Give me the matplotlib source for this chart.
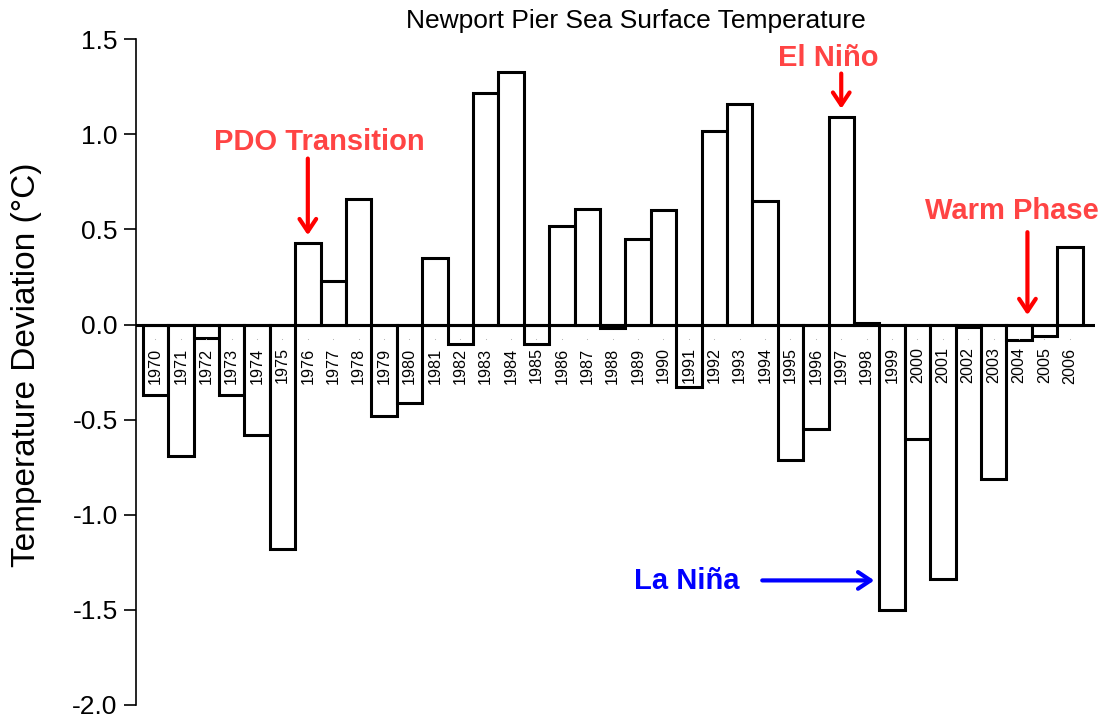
import matplotlib
matplotlib.use("Agg")
import matplotlib.pyplot as plt
import numpy as np

plt.rcParams['font.family'] = ['Liberation Sans', 'DejaVu Sans']
plt.rcParams['axes.unicode_minus'] = False

years = [str(y) for y in range(1970, 2007)]
deviation = [-0.37, -0.69, -0.07, -0.37, -0.58, -1.18, 0.43, 0.23, 0.66, -0.48,
             -0.41, 0.35, -0.10, 1.22, 1.33, -0.10, 0.52, 0.61, -0.02, 0.45,
             0.60, -0.33, 1.02, 1.16, 0.65, -0.71, -0.55, 1.09, 0.01, -1.50,
             -0.60, -1.34, -0.01, -0.81, -0.08, -0.06, 0.41]
yticks = [-2.0, -1.5, -1.0, -0.5, 0.0, 0.5, 1.0, 1.5]

W, H = 1102, 717
fig = plt.figure(figsize=(W / 100, H / 100), dpi=100)
ax = fig.add_axes([135.7 / W, 1 - 705.0 / H, (1095 - 135.7) / W, (705.0 - 39.3) / H])

x = np.arange(len(years))
ax.bar(x, deviation, width=1.0, facecolor='white', edgecolor='black', linewidth=2.2, zorder=2)
ax.axhline(0, color='black', linewidth=2.2, zorder=3)

ax.set_xlim(-0.776, 36.99)
ax.set_ylim(-2.0, 1.5)
ax.set_yticks(yticks)
ax.set_yticklabels([f"{v:.1f}" for v in yticks], fontsize=19)
ax.tick_params(axis='y', direction='out', length=9, width=1.2, pad=4)
ax.set_xticks([])
for s in ['top', 'right', 'bottom']:
    ax.spines[s].set_visible(False)
ax.spines['left'].set_linewidth(1.2)

# year labels written vertically just under the zero line
for xi, yr in zip(x, years):
    ax.text(xi, -0.12, yr, rotation=90, ha='center', va='top', fontsize=11.6, zorder=4)
ax.scatter(x, np.full(len(x), -0.078), s=0.6, color='#b0b0b0', zorder=4, linewidths=0)

fig.text(636 / W, 1 - 21 / H, 'Newport Pier Sea Surface Temperature', ha='center', va='center', fontsize=19)
fig.text(27 / W, 1 - 365 / H, 'Temperature Deviation (°C)', rotation=90, ha='center', va='center', fontsize=24)

red_txt = '#FF4444'


def arrow(color):
    return dict(arrowstyle='->,head_length=0.45,head_width=0.3', color=color, lw=3,
                mutation_scale=20, shrinkA=0, shrinkB=0)


ax.text(6.45, 0.96, 'PDO Transition', ha='center', va='center', fontsize=21, fontweight='bold', color=red_txt)
ax.annotate('', xy=(6, 0.47), xytext=(6, 0.873), arrowprops=arrow('red'))

ax.text(26.5, 1.40, 'El Niño', ha='center', va='center', fontsize=21, fontweight='bold', color=red_txt)
ax.annotate('', xy=(27, 1.135), xytext=(27, 1.32), arrowprops=arrow('red'))

ax.text(33.7, 0.595, 'Warm Phase', ha='center', va='center', fontsize=21, fontweight='bold', color=red_txt)
ax.annotate('', xy=(34.33, 0.05), xytext=(34.33, 0.486), arrowprops=arrow('red'))

ax.text(20.9, -1.35, 'La Niña', ha='center', va='center', fontsize=21, fontweight='bold', color='#0000FF')
ax.annotate('', xy=(28.3, -1.345), xytext=(23.89, -1.345), arrowprops=arrow('#0000FF'))

fig.savefig('out.png', dpi=100, facecolor='white')
